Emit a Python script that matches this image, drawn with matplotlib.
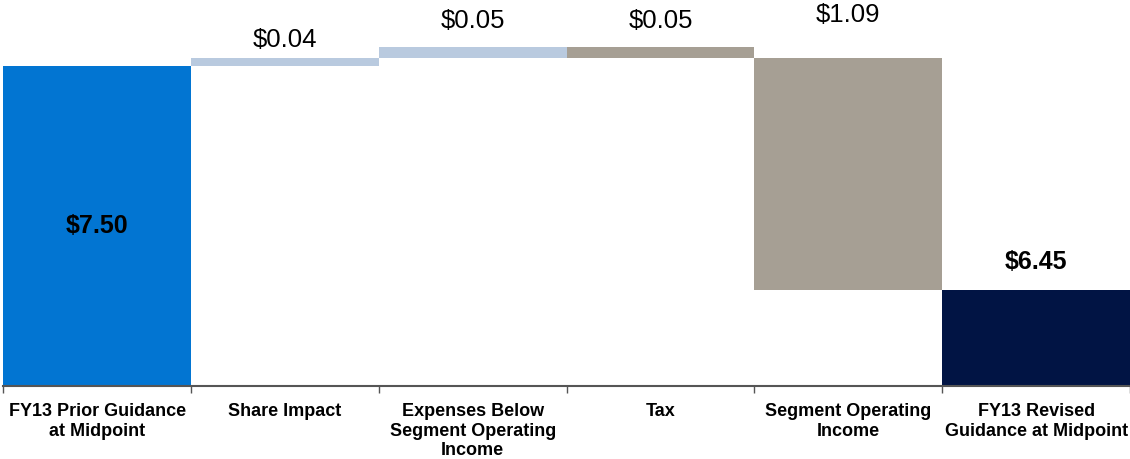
# FY13 guidance bridge (waterfall)
import matplotlib
matplotlib.use("Agg")
import matplotlib.pyplot as plt
import numpy as np

plt.rcParams['font.family'] = ['Liberation Sans', 'DejaVu Sans']

categories = ["FY13 Prior Guidance\nat Midpoint", "Share Impact",
              "Expenses Below\nSegment Operating\nIncome", "Tax",
              "Segment Operating\nIncome", "FY13 Revised\nGuidance at Midpoint"]
values = [7.50, 0.04, 0.05, -0.05, -1.09, 6.45]
is_total = [True, False, False, False, False, True]
value_labels = ["$7.50", "$0.04", "$0.05", "$0.05", "$1.09", "$6.45"]
colors = ["#0275d2", "#b9cadf", "#b9cadf", "#a69f94", "#a69f94", "#011444"]

# label offsets above bar top, in points
label_off = [0, 13, 19, 19, 31, 20]

fig = plt.figure(figsize=(11.3, 4.59), dpi=100)
ax = fig.add_axes([0.003, 0.159, 0.997, 0.841])

x = np.arange(len(values))
bottoms, heights = [], []
run = 0.0
for v, tot in zip(values, is_total):
    if tot:
        bottoms.append(0.0)
        heights.append(v)
        run = v
    else:
        bottoms.append(min(run, run + v))
        heights.append(abs(v))
        run += v

ax.bar(x, heights, bottom=bottoms, width=1.0, color=colors, linewidth=0)

ymin, ymax = 6.0, 7.81
ax.set_ylim(ymin, ymax)
ax.set_xlim(-0.5, 5.5)

for i in range(len(values)):
    top = bottoms[i] + heights[i]
    if i == 0:
        ax.text(x[i], (ymin + top) / 2, value_labels[i], ha='center', va='center',
                fontsize=18, fontweight='bold', color='black')
    else:
        ax.annotate(value_labels[i], (x[i], top), xytext=(0, label_off[i]),
                    textcoords='offset points', ha='center', va='center',
                    fontsize=18 if i == 5 else 18.5,
                    fontweight='bold' if i == 5 else 'normal',
                    color='black', annotation_clip=False)

for s in ['top', 'right', 'left']:
    ax.spines[s].set_visible(False)
ax.spines['bottom'].set_color('#555555')
ax.spines['bottom'].set_linewidth(1.5)
ax.set_yticks([])

ax.set_xticks(x)
ax.set_xticklabels(categories, fontsize=13, fontweight='bold', linespacing=1.22)
ax.tick_params(axis='x', which='major', length=0, pad=12)
ax.set_xticks(np.arange(-0.5, 6, 1.0), minor=True)
ax.tick_params(axis='x', which='minor', length=5, width=1, color='#555555')

fig.savefig("out.png", dpi=100)
